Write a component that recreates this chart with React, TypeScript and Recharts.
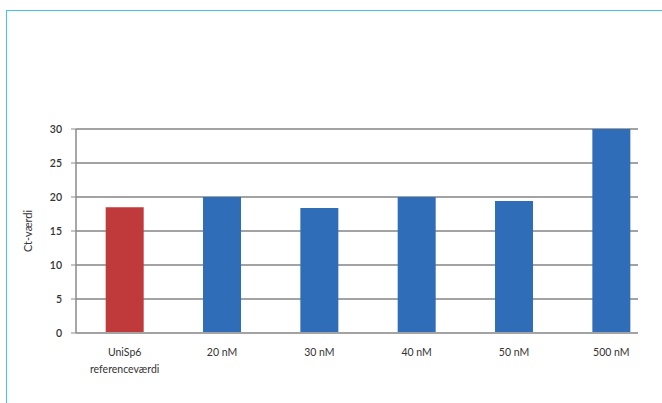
import { BarChart, Bar, XAxis, YAxis, CartesianGrid, Cell } from 'recharts'

// Kategorier og Ct-værdier
const categories = ['UniSp6\nreferenceværdi', '20 nM', '30 nM', '40 nM', '50 nM', '500 nM']
const ctValues = [18.5, 20, 18.4, 20, 19.4, 30]
const barColors = ['#c0393b', '#2f6db8', '#2f6db8', '#2f6db8', '#2f6db8', '#2f6db8']
const yTicks = [0, 5, 10, 15, 20, 25, 30]

const data = categories.map((name, i) => ({ name, value: ctValues[i] }))

const FONT = 'Lato, "Open Sans", sans-serif'

function CategoryTick({ x, y, payload }: any) {
  const lines = String(payload.value).split('\n')
  return (
    <text x={x} y={y} textAnchor="middle" fontFamily={FONT} fontSize={10.5} fill="#333">
      {lines.map((line, i) => (
        <tspan key={i} x={x} dy={i === 0 ? 15 : 17}>
          {line}
        </tspan>
      ))}
    </text>
  )
}

export default function App() {
  return (
    <div style={{ position: 'absolute', left: 0, top: 0, width: 662, height: 403, background: '#fff' }}>
      {/* ramme */}
      <div
        style={{
          position: 'absolute',
          left: 6,
          top: 10,
          right: 0,
          bottom: 0,
          borderTop: '1.5px solid #3fc4ee',
          borderLeft: '1.5px solid #3fc4ee',
        }}
      />
      <BarChart
        width={662}
        height={403}
        data={data}
        margin={{ top: 129, right: 24, left: 21, bottom: 30 }}
        barCategoryGap="30.5%"
      >
        <CartesianGrid vertical={false} stroke="#a3a3a3" strokeWidth={2} />
        <XAxis
          dataKey="name"
          interval={0}
          height={40}
          padding={{ left: 0, right: -22 }}
          axisLine={{ stroke: '#a3a3a3', strokeWidth: 2 }}
          tickLine={false}
          tick={<CategoryTick />}
        />
        <YAxis
          width={55}
          domain={[0, 30]}
          ticks={yTicks}
          axisLine={{ stroke: '#8a8a8a', strokeWidth: 1.5 }}
          tickLine={{ stroke: '#8a8a8a' }}
          tickSize={5}
          tickMargin={9}
          tick={{ fill: '#333', fontSize: 10.5, fontFamily: FONT, fontWeight: 600 }}
          label={{
            value: 'Ct-værdi',
            angle: -90,
            position: 'insideLeft',
            offset: 7,
            style: { textAnchor: 'middle', fill: '#333', fontSize: 11, fontFamily: FONT },
          }}
        />
        <Bar dataKey="value" isAnimationActive={false}>
          {data.map((d, i) => (
            <Cell key={d.name} fill={barColors[i]} />
          ))}
        </Bar>
      </BarChart>
    </div>
  )
}
